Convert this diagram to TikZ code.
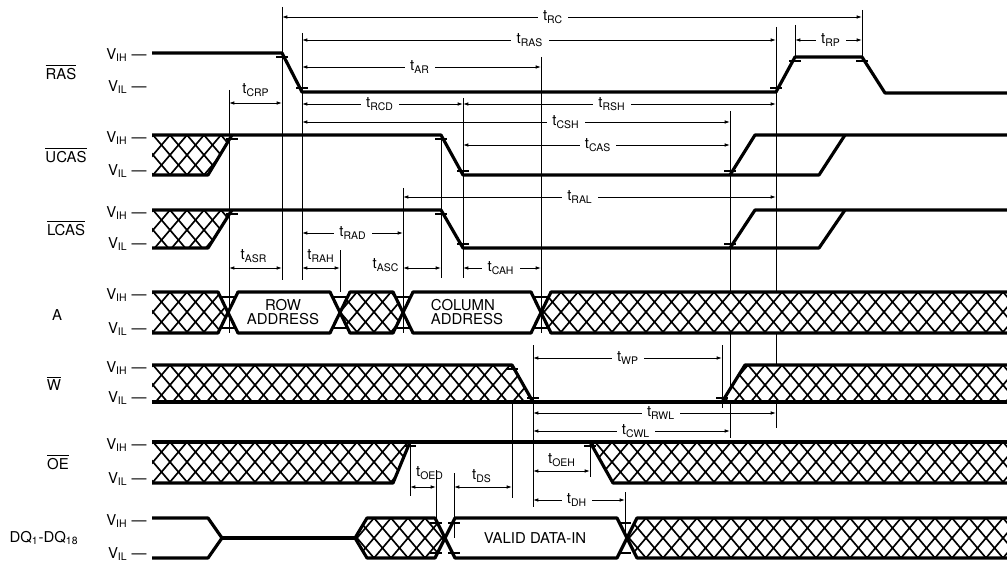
\documentclass[tikz,border=0pt]{standalone}
\usepackage{fontspec}
\setmainfont{TeX Gyre Heros}
\usetikzlibrary{arrows.meta}

\newcommand{\tp}[1]{t\textsubscript{#1}}
\newcommand{\vih}{V\textsubscript{IH} —}
\newcommand{\vil}{V\textsubscript{IL} —}
\newcommand{\ovl}[1]{$\overline{\mbox{#1}}$}
\newcommand{\hatchfill}[2]{%
  \fill[white] #2;
  \begin{scope}
    \clip #2;
    \foreach \hx in {85,102,...,1050} {
      \draw[hatch] (\hx-8.5,#1-10) -- (\hx+42.5,#1+50);
      \draw[hatch] (\hx+42.5,#1-10) -- (\hx-8.5,#1+50);
    }
  \end{scope}}

\begin{document}
\begin{tikzpicture}[x=0.02cm, y=-0.02cm, font=\fontsize{8.5}{10}\selectfont,
    sig/.style={line width=1.8pt, line join=round},
    hatch/.style={line width=0.95pt},
    ext/.style={line width=0.5pt},
    tickmark/.style={line width=0.6pt},
    dim/.style={line width=0.5pt, {Latex[length=3pt,width=2pt]}-{Latex[length=3pt,width=2pt]}},
    lbl/.style={fill=white, inner xsep=3pt, inner ysep=0.5pt},
    lbltop/.style={inner sep=0.5pt},
    vlvl/.style={anchor=east, inner sep=0pt},
    boxtext/.style={font=\fontsize{8.5}{8}\selectfont}]
      \useasboundingbox (0,0) rectangle (1007,564);

      \node (nras) at (61,72) {\ovl{RAS}};
      \node (nucas) at (66,155) {\ovl{UCAS}};
      \node (nlcas) at (66,228) {\ovl{LCAS}};
      \node (na) at (57,315) {A};
      \node (nw) at (54,383) {\ovl{W}};
      \node (noe) at (58,462) {\ovl{OE}};
      \node (ndq) at (44,538) {DQ\textsubscript{1}-DQ\textsubscript{18}};

      \foreach \nm/\h/\l in {ras/55/87, ucas/138/171, lcas/213/244, a/295/329, w/368/398, oe/445/479, dq/521/554} {
        \node[vlvl] (vih\nm) at (147,\h) {\vih};
        \node[vlvl] (vil\nm) at (147,\l) {\vil};
      }

      \foreach \x/\ya/\yb in {229/90/333, 282/7/280, 302/33/280, 340/250/292, 403/188/333, 441/135/278,
          463/98/278, 541/57/333, 730/111/438, 776/27/428, 795/25/58, 862/10/58, 722/345/408,
          533/345/507, 512/365/498, 410/442/496, 436/470/538, 454/473/538, 590/442/477, 625/492/538}
        \draw[ext] (\x,\ya) -- (\x,\yb);

      \draw[sig] (152,53) -- (282,53) -- (302,92) -- (776,92) -- (795,57) -- (862,57) -- (885,93) -- (1007,93);

      \hatchfill{135}{(152,135) -- (232,135) -- (208,175) -- (152,175) -- cycle}
      \draw[sig] (152,175) -- (208,175) -- (232,135);
      \draw[sig] (152,135) -- (441,135) -- (463,175) -- (819,175) -- (845,135);
      \draw[sig] (730,175) -- (755,135) -- (1007,135);

      \hatchfill{210}{(152,210) -- (232,210) -- (208,248) -- (152,248) -- cycle}
      \draw[sig] (152,248) -- (208,248) -- (232,210);
      \draw[sig] (152,210) -- (441,210) -- (463,248) -- (819,248) -- (845,210);
      \draw[sig] (730,248) -- (755,210) -- (1007,210);

      \hatchfill{292}{(152,292) -- (218,292) -- (228,312) -- (218,333) -- (152,333) -- cycle}
      \hatchfill{292}{(340,312) -- (350,292) -- (393,292) -- (403,312) -- (393,333) -- (350,333) -- cycle}
      \hatchfill{292}{(541,312) -- (551,292) -- (1007,292) -- (1007,333) -- (551,333) -- cycle}
      \draw[sig] (152,292) -- (218,292) -- (238,333) -- (330,333) -- (350,292) -- (393,292) -- (413,333) -- (531,333) -- (551,292) -- (1007,292);
      \draw[sig] (152,333) -- (218,333) -- (238,292) -- (330,292) -- (350,333) -- (393,333) -- (413,292) -- (531,292) -- (551,333) -- (1007,333);
      \node[boxtext, align=center] (rowaddr) at (283,312) {ROW\\ADDRESS};
      \node[boxtext, align=left] (coladdr) at (467,312) {COLUMN\\ADDRESS};

      \hatchfill{365}{(152,365) -- (512,365) -- (533,402) -- (152,402) -- cycle}
      \hatchfill{365}{(722,402) -- (745,365) -- (1007,365) -- (1007,402) -- cycle}
      \draw[sig] (152,365) -- (512,365) -- (533,402);
      \draw[sig] (152,402) -- (1007,402);
      \draw[sig] (722,402) -- (745,365) -- (1007,365);

      \hatchfill{442}{(152,442) -- (410,442) -- (393,483) -- (152,483) -- cycle}
      \hatchfill{442}{(590,442) -- (1007,442) -- (1007,483) -- (613,483) -- cycle}
      \draw[sig] (152,442) -- (1007,442);
      \draw[sig] (152,483) -- (393,483) -- (410,442);
      \draw[sig] (590,442) -- (613,483) -- (1007,483);

      \draw[sig] (152,518) -- (208,518) -- (222,538) -- (208,558) -- (152,558);
      \draw[sig] (222,538) -- (355,538);
      \hatchfill{518}{(355,538) -- (367,518) -- (435,518) -- (445,538) -- (435,558) -- (367,558) -- cycle}
      \hatchfill{518}{(627,538) -- (637,518) -- (1007,518) -- (1007,558) -- (637,558) -- cycle}
      \draw[sig] (355,538) -- (367,518) -- (435,518) -- (455,558) -- (617,558) -- (637,518) -- (1007,518);
      \draw[sig] (355,538) -- (367,558) -- (435,558) -- (455,518) -- (617,518) -- (637,558) -- (1007,558);
      \node[boxtext] (datain) at (535,538) {VALID DATA-IN};

      \foreach \x/\y in {282/57, 302/88, 776/88, 795/61, 862/61, 232/139, 441/139, 463/171, 730/171,
          232/214, 441/214, 463/244, 730/244, 228/297, 228/328, 340/297, 340/328, 403/297, 403/328,
          541/297, 541/328, 512/369, 533/398, 722/398, 410/446, 590/446, 436/523, 436/553, 454/523,
          454/553, 625/523, 625/553}
        \draw[tickmark] (\x-6,\y) -- (\x+6,\y);

      \foreach \xa/\xb/\y/\xl/\nm in {282/862/17/553/RC, 302/776/40/530/RAS, 795/862/40/831/RP,
          302/541/67/420/AR, 302/463/104/380/RCD, 463/776/104/612/RSH, 302/730/122/566/CSH,
          463/730/145/598/CAS, 403/776/197/580/RAL, 302/403/233/353/RAD, 463/541/268/501/CAH,
          533/722/358/628/WP, 533/776/413/661/RWL, 533/730/431/636/CWL, 533/625/500/577/DH} {
        \draw[dim] (\xa,\y) -- (\xb,\y);
        \node[lbl] (t\nm) at (\xl,\y) {\tp{\nm}};
      }

      \foreach \xa/\xb/\y/\xl/\yl/\nm in {229/282/103/256/90/CRP, 229/282/268/254/256/ASR,
          302/340/268/321/256/RAH, 410/436/487/430/473/OED, 454/512/487/482/476/DS,
          533/590/471/562/460/OEH} {
        \draw[dim] (\xa,\y) -- (\xb,\y);
        \node[lbltop] (t\nm) at (\xl,\yl) {\tp{\nm}};
      }

      \draw[dim] (403,268) -- (441,268);
      \node[lbltop] (tASC) at (386,265) {\tp{ASC}};
\end{tikzpicture}
\end{document}
